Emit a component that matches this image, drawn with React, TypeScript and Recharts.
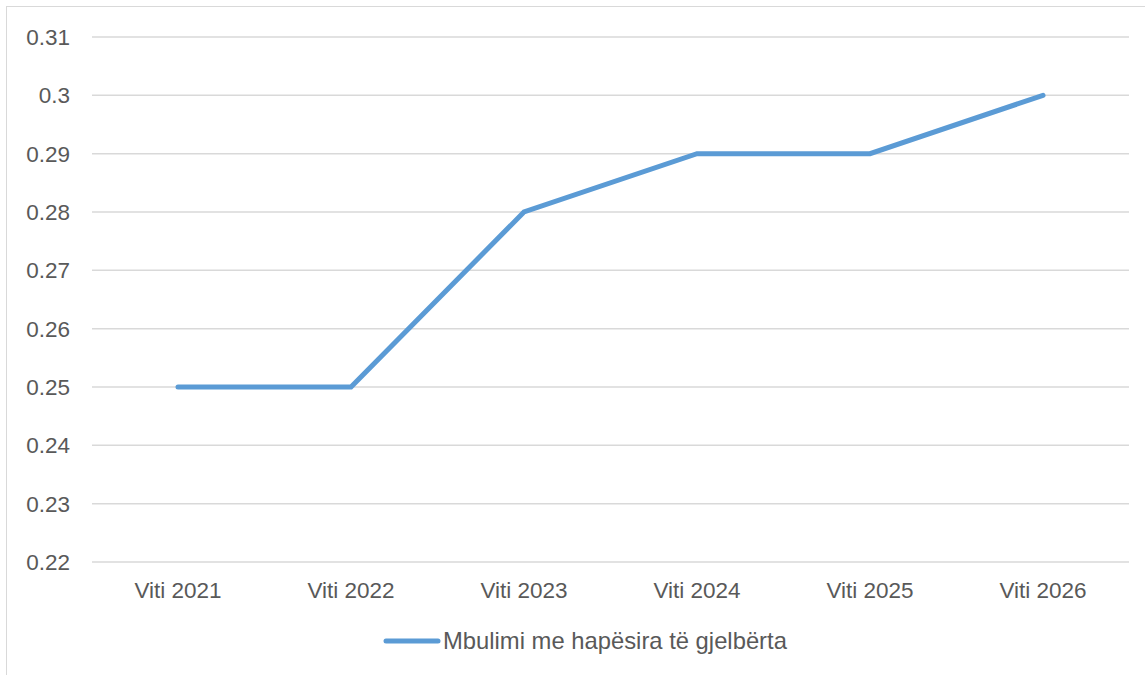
import { LineChart, Line, XAxis, YAxis, CartesianGrid, Legend } from 'recharts';

// --- Green space coverage by year ---
const years = ['Viti 2021', 'Viti 2022', 'Viti 2023', 'Viti 2024', 'Viti 2025', 'Viti 2026'];
const coverage = [0.25, 0.25, 0.28, 0.29, 0.29, 0.3];
const yTicks = [0.22, 0.23, 0.24, 0.25, 0.26, 0.27, 0.28, 0.29, 0.3, 0.31];
const seriesName = 'Mbulimi me hapësira të gjelbërta';

const data = years.map((year, i) => ({ year, value: coverage[i] }));

const FONT = '"Liberation Sans", Arial, sans-serif';
const TEXT = '#595959';
const LINE = '#5b9bd5';

const LegendContent = () => (
  <div style={{ display: 'flex', alignItems: 'center', fontFamily: FONT, fontSize: 23.8, color: TEXT }}>
    <svg width={58} height={10} style={{ marginRight: 2 }}>
      <line x1={3} y1={5} x2={55} y2={5} stroke={LINE} strokeWidth={5} strokeLinecap="round" />
    </svg>
    <span>{seriesName}</span>
  </div>
);

export default function App() {
  return (
    <div style={{ position: 'absolute', left: 0, top: 0, width: 1145, height: 675, background: '#fff', overflow: 'hidden' }}>
      <div style={{ position: 'absolute', left: 6, top: 6, width: 1160, height: 700, borderLeft: '1.5px solid #d9d9d9', borderTop: '1.5px solid #d9d9d9' }} />
      <LineChart width={1145} height={675} data={data} margin={{ top: 37, right: 16, bottom: 73, left: 0 }}>
        <CartesianGrid vertical={false} stroke="#d9d9d9" strokeWidth={1.5} />
        <XAxis
          dataKey="year"
          axisLine={false}
          tickLine={false}
          height={40}
          tickMargin={14}
          padding={{ left: 86, right: 86 }}
          tick={{ fill: TEXT, fontSize: 22.5, fontFamily: FONT }}
        />
        <YAxis
          domain={[0.22, 0.31]}
          ticks={yTicks}
          axisLine={false}
          tickLine={false}
          width={92}
          tickMargin={16}
          tick={{ fill: TEXT, fontSize: 22.5, fontFamily: FONT }}
        />
        <Legend
          layout="horizontal"
          verticalAlign="middle"
          align="center"
          content={<LegendContent />}
          wrapperStyle={{ left: 383, top: 627, width: 'auto' }}
        />
        <Line
          type="linear"
          dataKey="value"
          name={seriesName}
          stroke={LINE}
          strokeWidth={5}
          strokeLinecap="round"
          dot={false}
          activeDot={false}
          isAnimationActive={false}
        />
      </LineChart>
    </div>
  );
}
